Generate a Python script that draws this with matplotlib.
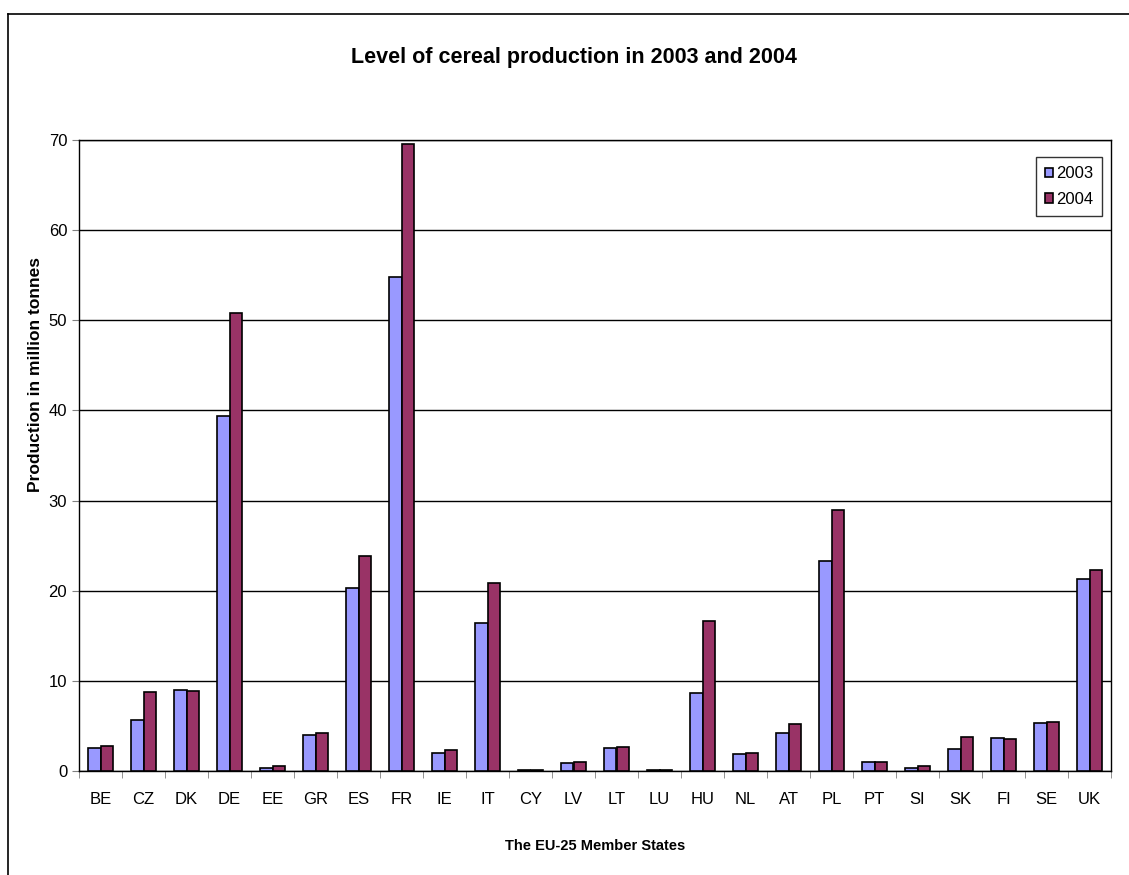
import numpy as np
import matplotlib
matplotlib.use("Agg")
import matplotlib.pyplot as plt
from matplotlib.lines import Line2D

# --- data (million tonnes) ---
countries = ["BE", "CZ", "DK", "DE", "EE", "GR", "ES", "FR", "IE", "IT", "CY", "LV", "LT",
             "LU", "HU", "NL", "AT", "PL", "PT", "SI", "SK", "FI", "SE", "UK"]
prod_2003 = [2.5, 5.7, 9.0, 39.4, 0.35, 4.0, 20.3, 54.8, 2.05, 16.4, 0.1, 0.85, 2.5,
             0.15, 8.7, 1.85, 4.2, 23.3, 0.95, 0.3, 2.4, 3.7, 5.3, 21.3]
prod_2004 = [2.8, 8.8, 8.9, 50.8, 0.5, 4.25, 23.8, 69.6, 2.35, 20.9, 0.08, 0.95, 2.7,
             0.15, 16.6, 1.95, 5.2, 29.0, 0.95, 0.5, 3.8, 3.55, 5.45, 22.3]
years = ["2003", "2004"]

plt.rcParams["font.family"] = ["Liberation Sans", "DejaVu Sans"]

fig = plt.figure(figsize=(11.29, 8.75), dpi=100)
ax = fig.add_axes([79 / 1129, 1 - 771 / 875, (1111 - 79) / 1129, (771 - 140) / 875])

x = np.arange(len(countries))
w = 0.29
ax.bar(x - w / 2, prod_2003, width=w, color="#9999FF", edgecolor="black", linewidth=1.2,
       label=years[0], zorder=3)
ax.bar(x + w / 2, prod_2004, width=w, color="#993366", edgecolor="black", linewidth=1.2,
       label=years[1], zorder=3)

ax.set_xlim(-0.5, len(countries) - 0.5)
ax.set_ylim(0, 70)
ax.set_yticks(range(0, 71, 10))
ax.yaxis.grid(True, color="black", linewidth=1)
ax.set_axisbelow(True)

ax.set_xticks(x)
ax.set_xticklabels(countries, fontsize=12)
ax.set_xticks(np.arange(-0.5, len(countries)), minor=True)
ax.tick_params(axis="x", which="major", length=0, pad=15)
ax.tick_params(axis="x", which="minor", length=5, direction="out", color="gray")
ax.tick_params(axis="y", labelsize=12, length=5, direction="out", color="gray")

for s in ax.spines.values():
    s.set_color("black")
    s.set_linewidth(1)

# title centred on the whole chart area
fig.text(574 / 1129, 1 - 57 / 875, "Level of cereal production in 2003 and 2004",
         fontsize=15.5, fontweight="bold", ha="center", va="center")
ax.set_xlabel("The EU-25 Member States", fontsize=10.5, fontweight="bold", labelpad=23)
ax.set_ylabel("Production in million tonnes", fontsize=12.5, fontweight="bold")
ax.yaxis.set_label_coords(-0.035, 0.628)

leg = ax.legend(loc="upper right", bbox_to_anchor=(0.9915, 0.973), fontsize=12, frameon=True,
                fancybox=False, edgecolor="black", handlelength=0.5, handleheight=0.5,
                handletextpad=0.15, borderpad=0.55, labelspacing=0.65, borderaxespad=0)
leg.get_frame().set_linewidth(1)

# outer chart border (top and left edges visible)
fig.add_artist(Line2D([8 / 1129, 8 / 1129], [0, 1 - 14 / 875], color="black", lw=1.2,
                      transform=fig.transFigure))
fig.add_artist(Line2D([8 / 1129, 1], [1 - 14 / 875, 1 - 14 / 875], color="black", lw=1.2,
                      transform=fig.transFigure))

fig.savefig("out.png", dpi=100)
